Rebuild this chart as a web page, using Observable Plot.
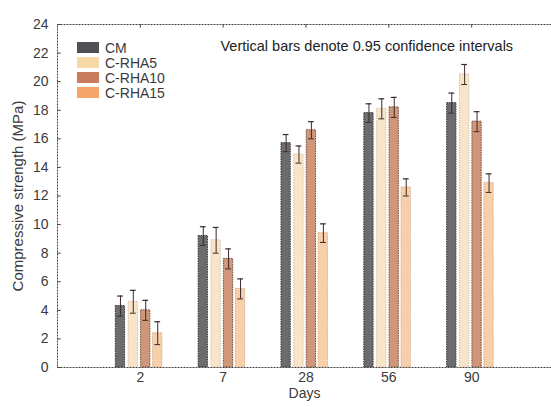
<!DOCTYPE html>
<html>
<head>
<meta charset="utf-8">
<script src="https://cdn.jsdelivr.net/npm/d3@7"></script>
<script src="https://cdn.jsdelivr.net/npm/@observablehq/plot@0.6"></script>
<style>
  html, body { margin: 0; padding: 0; background: #fff; }
  #wrap { position: relative; width: 551px; height: 407px; font-family: "Liberation Sans", Arial, sans-serif; }
  #legend { position: absolute; left: 77px; top: 40px; font-size: 14px; color: #3a3a3a; z-index: 2; }
  .row { display: flex; align-items: center; height: 15px; }
  .sw { width: 22px; height: 11px; margin-right: 6px; box-sizing: border-box; }
</style>
</head>
<body>
<div id="wrap"><div id="legend"></div></div>
<script>
// ---- data ----
const days = ["2", "7", "28", "56", "90"];
const series = ["CM", "C-RHA5", "C-RHA10", "C-RHA15"];
const cm    = [4.3, 9.2, 15.7, 17.8, 18.5];
const rha5  = [4.6, 8.9, 14.9, 18.1, 20.5];
const rha10 = [4.0, 7.6, 16.6, 18.2, 17.2];
const rha15 = [2.4, 5.5, 9.4, 12.6, 12.9];
const cmCI    = [0.7, 0.65, 0.6, 0.65, 0.7];
const rha5CI  = [0.8, 0.9, 0.6, 0.7, 0.7];
const rha10CI = [0.7, 0.7, 0.6, 0.7, 0.7];
const rha15CI = [0.8, 0.7, 0.65, 0.6, 0.65];
const yTicks = [0, 2, 4, 6, 8, 10, 12, 14, 16, 18, 20, 22, 24];
const note = "Vertical bars denote 0.95 confidence intervals";

// ---- styles ----
const legendColor = {"CM": "#4f4f54", "C-RHA5": "#f7d8a8", "C-RHA10": "#c97b5c", "C-RHA15": "#f5a46a"};
const barFill = {"CM": "#6c6c6e", "C-RHA5": "#f8e4c8", "C-RHA10": "#d0967a", "C-RHA15": "#f7d0aa"};
const barStroke = {"CM": "#333", "C-RHA5": "#d8c2a8", "C-RHA10": "#6f4a3a", "C-RHA15": "#d5ad8a"};
const offset = {"CM": -0.24, "C-RHA5": -0.085, "C-RHA10": 0.065, "C-RHA15": 0.21};
const hw = 0.056, cap = 0.035;

const vals = [cm, rha5, rha10, rha15];
const cis = [cmCI, rha5CI, rha10CI, rha15CI];
const rows = [];
series.forEach((s, si) => days.forEach((d, di) => {
  rows.push({s, day: d, pos: di + 1, v: vals[si][di], ci: cis[si][di]});
}));

const chart = Plot.plot({
  width: 551, height: 407,
  marginLeft: 57, marginTop: 24, marginBottom: 40, marginRight: 0,
  x: {domain: [0, 6], range: [57, 554]},
  y: {domain: [0, 24], range: [367, 24]},
  style: {fontFamily: "'Liberation Sans', Arial, sans-serif", fontSize: "14px", color: "#3a3a3a", background: "transparent"},
  marks: [
    Plot.rect(rows, {
      x1: d => d.pos + offset[d.s] - hw, x2: d => d.pos + offset[d.s] + hw,
      y1: 0, y2: "v",
      fill: d => barFill[d.s], stroke: d => barStroke[d.s], strokeDasharray: "1.5,1", strokeWidth: 1
    }),
    Plot.ruleX(rows, {x: d => d.pos + offset[d.s], y1: d => d.v - d.ci, y2: d => d.v + d.ci, stroke: "#3a2a28", strokeWidth: 1}),
    Plot.ruleY(rows, {y: d => d.v + d.ci, x1: d => d.pos + offset[d.s] - cap, x2: d => d.pos + offset[d.s] + cap, stroke: "#3a2a28", strokeWidth: 1.2}),
    Plot.ruleY(rows, {y: d => d.v - d.ci, x1: d => d.pos + offset[d.s] - cap, x2: d => d.pos + offset[d.s] + cap, stroke: "#3a2a28", strokeWidth: 1}),
    Plot.frame({stroke: "#444", strokeDasharray: "2,1", strokeWidth: 1}),
    Plot.ruleY(yTicks, {x1: 0, x2: 0.045, stroke: "#444"}),
    Plot.ruleX(d3.range(1, days.length + 1), {y1: 24, y2: 23.75, stroke: "#444"}),
    Plot.axisY(yTicks, {tickSize: 0, tickPadding: 9, label: null, fontSize: 14}),
    Plot.axisX(d3.range(1, days.length + 1), {tickSize: 0, tickPadding: 5, label: null, tickFormat: i => days[i - 1], fontSize: 14}),
    Plot.text(["Compressive strength (MPa)"], {frameAnchor: "left", dx: -39, textAnchor: "middle", rotate: -90, fontSize: 15, fill: "#3a3a3a"}),
    Plot.text(["Days"], {frameAnchor: "bottom", dy: 30, fontSize: 14, fill: "#3a3a3a"}),
    Plot.text([note], {frameAnchor: "top-left", dx: 163, dy: 16, textAnchor: "start", fontSize: 14.5, fill: "#222"})
  ]
});
document.getElementById("wrap").appendChild(chart);
chart.style.position = "absolute"; chart.style.left = "0"; chart.style.top = "0";

const leg = document.getElementById("legend");
series.forEach(s => {
  const r = document.createElement("div"); r.className = "row";
  const sw = document.createElement("div"); sw.className = "sw"; sw.style.background = legendColor[s];
  const t = document.createElement("span"); t.textContent = s;
  r.appendChild(sw); r.appendChild(t); leg.appendChild(r);
});
</script>
</body>
</html>
